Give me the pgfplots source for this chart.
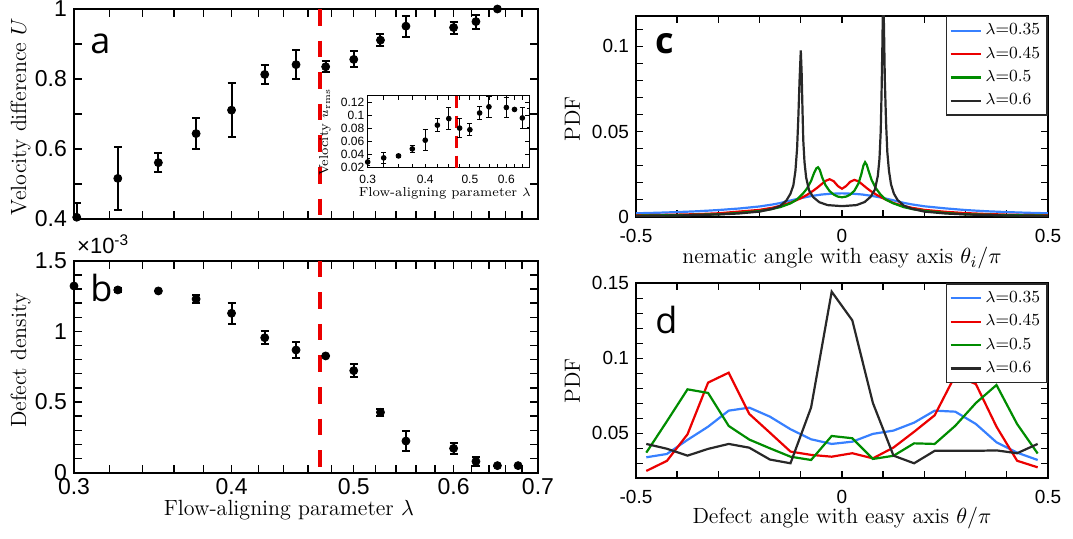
\documentclass[border=0pt]{standalone}
\usepackage{fontspec}
\usepackage{pgfplots}
\pgfplotsset{compat=1.18}
\newfontfamily\tickfont{Liberation Sans}
\newfontfamily\letterfont{Open Sans}
\definecolor{cblue}{RGB}{55,128,255}
\definecolor{cred}{RGB}{235,0,0}
\definecolor{cgreen}{RGB}{0,140,0}
\definecolor{cblack}{RGB}{40,40,40}
\pgfplotsset{
  myaxis/.style={scale only axis, tick align=inside,
    axis line style={line width=0.9pt}, tick style={line width=0.7pt, black},
    major tick length=4pt, minor tick length=4pt,
    /pgf/number format/assume math mode=true,
    label style={font=\fontsize{11}{13}\selectfont}},
  errpts/.style={only marks, mark=*, mark size=2pt, black,
    error bars/.cd, y dir=both, y explicit,
    error bar style={line width=1pt},
    error mark options={rotate=90, mark size=2pt, line width=1pt}},
  mylegend/.style={legend style={at={(1,1)}, anchor=north east, draw=cblack, line width=0.8pt,
    font=\fontsize{8.5}{10}\selectfont, inner sep=1.5pt, row sep=0.5pt},
    legend cell align=left,
    legend image code/.code={\draw[##1, line width=1.1pt] (0pt,0pt) -- (15pt,0pt);}},
}
\pgfplotstableread{
x y ey
0.3015 0.405 0.04
0.325 0.516 0.09
0.35 0.561 0.027
0.375 0.644 0.045
0.4 0.711 0.078
0.425 0.813 0.028
0.45 0.841 0.041
0.475 0.835 0.015
0.5 0.856 0.023
0.525 0.911 0.017
0.55 0.951 0.03
0.6 0.947 0.017
0.625 0.964 0.02
0.65 1.0 0.0
}\tabA
\pgfplotstableread{
x y ey
0.3 1.321 0
0.325 1.293 0.015
0.35 1.286 0
0.375 1.229 0.027
0.4 1.128 0.075
0.425 0.955 0.047
0.45 0.868 0.06
0.475 0.826 0
0.5 0.722 0.047
0.525 0.427 0.024
0.55 0.224 0.07
0.6 0.172 0.04
0.625 0.08 0.03
0.65 0.05 0
0.675 0.05 0
}\tabB
\pgfplotstableread{
x y ey
0.3 0.0287 0.005
0.325 0.035 0.008
0.35 0.038 0.002
0.375 0.0487 0.005
0.4 0.062 0.016
0.425 0.085 0.0095
0.45 0.095 0.017
0.475 0.0805 0.014
0.5 0.078 0.009
0.525 0.1036 0.0097
0.55 0.113 0.016
0.6 0.112 0.015
0.625 0.109 0.002
0.65 0.096 0.016
0.675 0.096 0.015
}\tabInset
\pgfplotstableread{
x blue red green black
-0.475 0.0340 0.0249 0.0371 0.0429
-0.425 0.0362 0.0316 0.0580 0.0397
-0.375 0.0456 0.0493 0.0793 0.0351
-0.325 0.0544 0.0838 0.0769 0.0396
-0.275 0.0651 0.0904 0.0549 0.0429
-0.225 0.0671 0.0629 0.0458 0.0404
-0.175 0.0611 0.0504 0.0400 0.0325
-0.125 0.0527 0.0378 0.0344 0.0300
-0.075 0.0460 0.0356 0.0322 0.0672
-0.025 0.0429 0.0344 0.0482 0.1444
0.025 0.0444 0.0367 0.0467 0.1253
0.075 0.0496 0.0333 0.0329 0.0702
0.125 0.0518 0.0405 0.0350 0.0351
0.175 0.0571 0.0510 0.0433 0.0300
0.225 0.0651 0.0620 0.0429 0.0383
0.275 0.0644 0.0887 0.0550 0.0383
0.325 0.0562 0.0828 0.0702 0.0383
0.375 0.0440 0.0544 0.0822 0.0386
0.425 0.0371 0.0317 0.0562 0.0367
0.475 0.0322 0.0273 0.0365 0.0429
}\tabD
\begin{document}
\begin{tikzpicture}
\useasboundingbox (0,0) rectangle (536.5pt,269.5pt);
% ---------------- panel a
\begin{axis}[myaxis, at={(37pt,160pt)}, anchor=south west, width=232pt, height=105pt,
  xmode=log, xmin=0.3, xmax=0.7, ymin=0.4, ymax=1,
  xtick={0.3,0.4,0.5,0.6,0.7}, xticklabels={},
  minor xtick={0.32,0.34,0.36,0.38,0.42,0.44,0.46,0.48,0.52,0.54,0.56,0.58,0.62,0.64,0.66,0.68},
  ytick={0.4,0.6,0.8,1}, yticklabels={0.4,0.6,0.8,1}, minor ytick={0.5,0.7,0.9},
  tick label style={font=\tickfont\fontsize{11.5}{12}\selectfont},
  ylabel={Velocity difference $U$},
  ylabel style={at={(axis description cs:-0.1034,0.487)}, anchor=base}]
\addplot[cred, line width=2pt, dash pattern=on 8.3pt off 7.5pt] coordinates {(0.47,1) (0.47,0.4)};
\addplot[errpts] table[x index=0, y index=1, y error index=2] {\tabA};
\node[anchor=base west, inner sep=0, font=\letterfont\fontsize{18}{18}\selectfont] at (axis description cs:0.0345,0.789) {a};
\end{axis}
% ---------------- inset
\begin{axis}[myaxis, at={(183.85pt,185.65pt)}, anchor=south west, width=80.8pt, height=36pt,
  xmode=log, xmin=0.3, xmax=0.673, ymin=0.02, ymax=0.13,
  axis line style={line width=0.5pt}, tick style={line width=0.4pt, black},
  major tick length=2pt, minor tick length=2pt,
  xtick={0.3,0.4,0.5,0.6}, xticklabels={0.3,0.4,0.5,0.6},
  minor xtick={0.325,0.35,0.375,0.425,0.45,0.475,0.525,0.55,0.575,0.625,0.65},
  ytick={0.02,0.04,0.06,0.08,0.1,0.12}, yticklabels={0.02,0.04,0.06,0.08,0.1,0.12},
  tick label style={font=\tickfont\fontsize{6}{7}\selectfont, inner sep=1.5pt},
  xticklabel style={yshift=-1.8pt},
  label style={font=\fontsize{6.5}{7.5}\selectfont},
  xlabel={Flow-aligning parameter $\lambda$},
  xlabel style={at={(axis description cs:0.478,-0.407)}, anchor=base},
  ylabel={Velocity $u_{\mathrm{rms}}$},
  ylabel style={at={(axis description cs:-0.245,0.49)}, anchor=base}]
\addplot[cred, line width=1.3pt, dash pattern=on 6pt off 4pt] coordinates {(0.468,0.13) (0.468,0.02)};
\addplot[only marks, mark=*, mark size=1.2pt, black,
  error bars/.cd, y dir=both, y explicit,
  error bar style={line width=0.5pt},
  error mark options={rotate=90, mark size=1.3pt, line width=0.5pt}]
  table[x index=0, y index=1, y error index=2] {\tabInset};
\end{axis}
% ---------------- panel b
\begin{axis}[myaxis, clip mode=individual, at={(37pt,33.15pt)}, anchor=south west, width=232pt, height=106pt,
  xmode=log, xmin=0.3, xmax=0.7, ymin=0, ymax=1.5,
  xtick={0.3,0.4,0.5,0.6,0.7}, xticklabels={0.3,0.4,0.5,0.6,0.7},
  minor xtick={0.32,0.34,0.36,0.38,0.42,0.44,0.46,0.48,0.52,0.54,0.56,0.58,0.62,0.64,0.66,0.68},
  ytick={0,0.5,1,1.5}, yticklabels={0,0.5,1,1.5},
  minor ytick={0.1,0.2,0.3,0.4,0.6,0.7,0.8,0.9,1.1,1.2,1.3,1.4},
  tick label style={font=\tickfont\fontsize{11.5}{12}\selectfont},
  xticklabel style={inner sep=2.5pt},
  ylabel={Defect density},
  ylabel style={at={(axis description cs:-0.1034,0.528)}, anchor=base},
  xlabel={Flow-aligning parameter $\lambda$},
  xlabel style={at={(axis description cs:0.463,-0.204)}, anchor=base}]
\addplot[cred, line width=2pt, dash pattern=on 8.3pt off 7.5pt] coordinates {(0.47,1.5) (0.47,0)};
\addplot[errpts] table[x index=0, y index=1, y error index=2] {\tabB};
\node[anchor=base west, inner sep=0, font=\letterfont\fontsize{18}{18}\selectfont] at (axis description cs:0.0345,0.807) {b};
\node[anchor=base west, inner sep=0, font=\tickfont\fontsize{11}{12}\selectfont] at (axis description cs:0.006,1.032) {×10\textsuperscript{-3}};
\end{axis}
% ---------------- panel c
\begin{axis}[myaxis, mylegend, at={(318pt,161.15pt)}, anchor=south west, width=206pt, height=100.5pt,
  xmin=-0.5, xmax=0.5, ymin=0, ymax=0.118,
  xtick={-0.5,0,0.5}, xticklabels={-0.5,0,0.5},
  minor xtick={-0.4,-0.3,-0.2,-0.1,0.1,0.2,0.3,0.4},
  ytick={0,0.05,0.1}, yticklabels={0,0.05,0.1},
  minor ytick={0.01,0.02,0.03,0.04,0.06,0.07,0.08,0.09,0.11},
  major tick length=3.5pt, minor tick length=3.5pt,
  tick label style={font=\tickfont\fontsize{9.5}{10}\selectfont},
  xticklabel style={yshift=-2.5pt},
  ylabel={PDF},
  ylabel style={at={(axis description cs:-0.136,0.486)}, anchor=base},
  xlabel={nematic angle with easy axis $\theta_i/\pi$},
  xlabel style={at={(axis description cs:0.5,-0.235)}, anchor=base}]
\addplot[cblue, line width=1.1pt] coordinates {
(-0.5,0.0020) (-0.45,0.0023) (-0.4,0.0027) (-0.35,0.0032) (-0.3,0.0039) (-0.25,0.0048)
(-0.2,0.0060) (-0.17,0.0071) (-0.15,0.0080) (-0.125,0.0095) (-0.1,0.0109) (-0.075,0.0121)
(-0.05,0.0130) (-0.025,0.0135) (0,0.0137) (0.025,0.0135) (0.05,0.0130) (0.075,0.0121)
(0.1,0.0110) (0.125,0.0096) (0.15,0.0081) (0.17,0.0072) (0.2,0.0061) (0.25,0.0049)
(0.3,0.0039) (0.35,0.0032) (0.4,0.0027) (0.45,0.0023) (0.5,0.0020)};
\addlegendentry{$\lambda$=0.35}
\addplot[cred, line width=1.1pt] coordinates {
(-0.5,0.0008) (-0.4,0.0012) (-0.35,0.0015) (-0.3,0.0020) (-0.25,0.0030) (-0.2,0.0040)
(-0.17,0.0052) (-0.15,0.0064) (-0.125,0.0082) (-0.1,0.0108) (-0.085,0.0128) (-0.07,0.0152)
(-0.06,0.0170) (-0.05,0.0190) (-0.04,0.0210) (-0.03,0.0220) (-0.02,0.0208) (-0.01,0.0180)
(0,0.0164) (0.01,0.0180) (0.02,0.0205) (0.03,0.0216) (0.04,0.0208) (0.05,0.0188)
(0.06,0.0168) (0.07,0.0150) (0.085,0.0127) (0.1,0.0108) (0.125,0.0080) (0.15,0.0063)
(0.17,0.0052) (0.2,0.0040) (0.25,0.0029) (0.3,0.0021) (0.35,0.0016) (0.4,0.0012) (0.5,0.0008)};
\addlegendentry{$\lambda$=0.45}
\addplot[cgreen, line width=1.1pt] coordinates {
(-0.5,0.0006) (-0.4,0.0009) (-0.3,0.0014) (-0.25,0.0022) (-0.2,0.0033) (-0.17,0.0045)
(-0.15,0.0056) (-0.125,0.0078) (-0.11,0.0100) (-0.095,0.0135) (-0.085,0.0165) (-0.075,0.0210)
(-0.068,0.0255) (-0.062,0.0285) (-0.058,0.0290) (-0.054,0.0275) (-0.048,0.0230) (-0.04,0.0185)
(-0.03,0.0150) (-0.02,0.0130) (-0.01,0.0118) (0,0.0114) (0.01,0.0118) (0.02,0.0130)
(0.03,0.0152) (0.04,0.0195) (0.047,0.0250) (0.052,0.0300) (0.056,0.0320) (0.06,0.0305)
(0.065,0.0265) (0.072,0.0215) (0.082,0.0168) (0.092,0.0135) (0.105,0.0102) (0.125,0.0078)
(0.15,0.0056) (0.17,0.0045) (0.2,0.0034) (0.25,0.0022) (0.3,0.0014) (0.4,0.0009) (0.5,0.0006)};
\addlegendentry{$\lambda$=0.5}
\addplot[cblack, line width=1.1pt] coordinates {
(-0.5,0.0004) (-0.4,0.0007) (-0.3,0.0013) (-0.25,0.0019) (-0.2,0.0030) (-0.17,0.0045)
(-0.15,0.0063) (-0.135,0.0095) (-0.125,0.0135) (-0.118,0.0185) (-0.113,0.0270) (-0.109,0.0400)
(-0.106,0.0580) (-0.103,0.0800) (-0.1,0.0976) (-0.098,0.0850) (-0.096,0.0640) (-0.094,0.0450)
(-0.091,0.0320) (-0.087,0.0230) (-0.08,0.0155) (-0.07,0.0115) (-0.055,0.0085) (-0.035,0.0068)
(0,0.0062) (0.035,0.0068) (0.055,0.0086) (0.07,0.0118) (0.08,0.0160) (0.087,0.0240)
(0.091,0.0340) (0.094,0.0500) (0.096,0.0720) (0.098,0.1000) (0.1,0.1350) (0.102,0.1100)
(0.104,0.0800) (0.107,0.0550) (0.11,0.0380) (0.114,0.0270) (0.119,0.0190) (0.126,0.0135)
(0.135,0.0098) (0.15,0.0065) (0.17,0.0046) (0.2,0.0030) (0.25,0.0019) (0.3,0.0013)
(0.4,0.0007) (0.5,0.0004)};
\addlegendentry{$\lambda$=0.6}
\node[anchor=base west, inner sep=0, font=\letterfont\bfseries\fontsize{18}{18}\selectfont] at (axis description cs:0.046,0.813) {c};
\end{axis}
% ---------------- panel d
\begin{axis}[myaxis, mylegend, at={(318pt,30.35pt)}, anchor=south west, width=206pt, height=97.5pt,
  xmin=-0.5, xmax=0.5, ymin=0.02, ymax=0.15,
  xtick={-0.5,0,0.5}, xticklabels={-0.5,0,0.5},
  minor xtick={-0.4,-0.3,-0.2,-0.1,0.1,0.2,0.3,0.4},
  ytick={0.05,0.1,0.15}, yticklabels={0.05,0.1,0.15},
  minor ytick={0.03,0.04,0.06,0.07,0.08,0.09,0.11,0.12,0.13,0.14},
  major tick length=3.5pt, minor tick length=3.5pt,
  tick label style={font=\tickfont\fontsize{9.5}{10}\selectfont},
  xticklabel style={yshift=-2.5pt},
  ylabel={PDF},
  ylabel style={at={(axis description cs:-0.136,0.5)}, anchor=base},
  xlabel={Defect angle with easy axis $\theta/\pi$},
  xlabel style={at={(axis description cs:0.5,-0.234)}, anchor=base}]
\addplot[cblue, line width=1.1pt] table[x=x, y=blue] {\tabD};
\addlegendentry{$\lambda$=0.35}
\addplot[cred, line width=1.1pt] table[x=x, y=red] {\tabD};
\addlegendentry{$\lambda$=0.45}
\addplot[cgreen, line width=1.1pt] table[x=x, y=green] {\tabD};
\addlegendentry{$\lambda$=0.5}
\addplot[cblack, line width=1.1pt] table[x=x, y=black] {\tabD};
\addlegendentry{$\lambda$=0.6}
\node[anchor=base west, inner sep=0, font=\letterfont\fontsize{18}{18}\selectfont] at (axis description cs:0.046,0.744) {d};
\end{axis}
\end{tikzpicture}
\end{document}
